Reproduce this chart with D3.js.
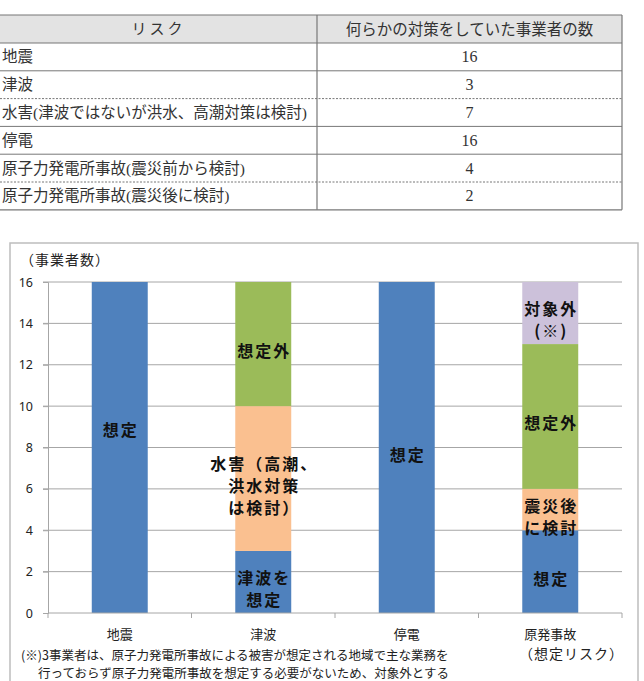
<!DOCTYPE html>
<html>
<head>
<meta charset="utf-8">
<script src="https://cdn.jsdelivr.net/npm/d3@7"></script>
<style>
  body { margin: 0; background: #fff; }
  svg { display: block; }
</style>
</head>
<body>
<svg id="page" width="644" height="681"></svg>
<script>
// table data
const tableHeader = ["リスク", "何らかの対策をしていた事業者の数"];
const riskNames = [
    "地震",
    "津波",
    "水害(津波ではないが洪水、高潮対策は検討)",
    "停電",
    "原子力発電所事故(震災前から検討)",
    "原子力発電所事故(震災後に検討)"
];
const riskCounts = [16, 3, 7, 16, 4, 2];
const dashedAfter = [1, 4]; // dotted separators under these rows

// chart data
const categories = ["地震", "津波", "停電", "原発事故"];
const souteiValues = [16, 3, 16, 4];
const kentouValues = [0, 7, 0, 2];
const souteigaiValues = [0, 6, 0, 7];
const taishougaiValues = [0, 0, 0, 3];
const souteiLabels = ["想定", "津波を\n想定", "想定", "想定"];
const kentouLabels = ["", "水害（高潮、\n洪水対策\nは検討）", "", "震災後\nに検討"];
const souteigaiLabels = ["", "想定外", "", "想定外"];
const taishougaiLabels = ["", "", "", "対象外\n(※)"];
const yTicks = [0, 2, 4, 6, 8, 10, 12, 14, 16];

const seriesKeys = ["soutei", "kentou", "souteigai", "taishougai"];
const seriesValues = [souteiValues, kentouValues, souteigaiValues, taishougaiValues];
const seriesLabels = [souteiLabels, kentouLabels, souteigaiLabels, taishougaiLabels];
const colors = ["#4f81bd", "#fac090", "#9bbb59", "#ccc1da"];

const svg = d3.select("#page");
const serif = "'Liberation Serif', 'Noto Sans CJK JP', serif";
const sans = "'Noto Sans CJK JP', sans-serif";

// ---------- table ----------
const tbl = { left: 0, right: 622, split: 317, top: 15, headH: 28, rowH: 27.8 };
const tableG = svg.append("g");

tableG.append("rect")
    .attr("x", tbl.left).attr("y", tbl.top)
    .attr("width", tbl.right - tbl.left).attr("height", tbl.headH)
    .attr("fill", "#e3e3e3");

const rowY = i => tbl.top + tbl.headH + i * tbl.rowH;
const tableBottom = rowY(riskNames.length);

// header text
tableG.append("text")
    .attr("x", (tbl.left + tbl.split) / 2).attr("y", tbl.top + tbl.headH / 2)
    .attr("text-anchor", "middle").attr("dominant-baseline", "central")
    .style("font-family", serif).style("font-size", "15px").style("letter-spacing", "3px")
    .attr("fill", "#333")
    .text(tableHeader[0]);
tableG.append("text")
    .attr("x", (tbl.split + tbl.right) / 2).attr("y", tbl.top + tbl.headH / 2)
    .attr("text-anchor", "middle").attr("dominant-baseline", "central")
    .style("font-family", serif).style("font-size", "15.5px").attr("fill", "#333")
    .text(tableHeader[1]);

const rows = tableG.selectAll("g.row")
    .data(riskNames)
    .enter()
    .append("g")
    .attr("class", "row");

rows.append("text")
    .attr("x", tbl.left + 2)
    .attr("y", (d, i) => rowY(i) + tbl.rowH / 2)
    .attr("dominant-baseline", "central")
    .style("font-family", serif).style("font-size", "15.5px").attr("fill", "#333")
    .text(d => d);

rows.append("text")
    .attr("x", (tbl.split + tbl.right) / 2)
    .attr("y", (d, i) => rowY(i) + tbl.rowH / 2)
    .attr("text-anchor", "middle").attr("dominant-baseline", "central")
    .style("font-family", serif).style("font-size", "16px").attr("fill", "#333")
    .text((d, i) => riskCounts[i]);

// row separators
riskNames.slice(0, -1).forEach((d, i) => {
    tableG.append("line")
        .attr("x1", tbl.left).attr("x2", tbl.right)
        .attr("y1", rowY(i + 1)).attr("y2", rowY(i + 1))
        .attr("stroke", "#777").attr("stroke-width", 1)
        .attr("stroke-dasharray", dashedAfter.includes(i) ? "2,1.5" : null);
});
// outer lines
[tbl.top, tbl.top + tbl.headH, tableBottom].forEach(y => {
    tableG.append("line")
        .attr("x1", tbl.left).attr("x2", tbl.right).attr("y1", y).attr("y2", y)
        .attr("stroke", "#777").attr("stroke-width", 1.2);
});
[tbl.split, tbl.right].forEach(x => {
    tableG.append("line")
        .attr("x1", x).attr("x2", x).attr("y1", tbl.top).attr("y2", tableBottom)
        .attr("stroke", "#777").attr("stroke-width", 1.2);
});

// ---------- chart ----------
svg.append("rect")
    .attr("x", 10).attr("y", 243)
    .attr("width", 628).attr("height", 460)
    .attr("fill", "none").attr("stroke", "#bdbdbd").attr("stroke-width", 1.5);

const plot = { left: 48, right: 622, top: 282, bottom: 613 };

const x = d3.scaleBand()
    .domain(categories)
    .range([plot.left, plot.right])
    .paddingInner(0.61)
    .paddingOuter(0.305);

const y = d3.scaleLinear()
    .domain([0, 16])
    .range([plot.bottom, plot.top]);

// gridlines
svg.append("g")
    .selectAll("line")
    .data(yTicks.filter(t => t > 0))
    .enter()
    .append("line")
    .attr("x1", plot.left - 5).attr("x2", plot.right)
    .attr("y1", d => y(d)).attr("y2", d => y(d))
    .attr("stroke", "#a6a6a6").attr("stroke-width", 1);

// y axis
const yAxis = svg.append("g")
    .attr("transform", `translate(${plot.left},0)`)
    .call(d3.axisLeft(y).tickValues(yTicks).tickSize(5).tickPadding(10));
yAxis.select(".domain").attr("stroke", "#a6a6a6");
yAxis.selectAll(".tick line").attr("stroke", "#a6a6a6");
yAxis.selectAll("text")
    .style("font-family", "'Noto Sans', sans-serif").style("font-size", "12.5px").attr("fill", "#222");

// stacked bars
const table = categories.map((c, i) => {
    const row = { category: c };
    seriesKeys.forEach((k, j) => { row[k] = seriesValues[j][i]; });
    return row;
});
const stacked = d3.stack().keys(seriesKeys)(table);

const layers = svg.selectAll("g.layer")
    .data(stacked)
    .enter()
    .append("g")
    .attr("class", "layer")
    .attr("fill", (d, i) => colors[i]);

layers.selectAll("rect")
    .data(d => d)
    .enter()
    .append("rect")
    .attr("x", d => x(d.data.category))
    .attr("y", d => y(d[1]))
    .attr("width", x.bandwidth())
    .attr("height", d => y(d[0]) - y(d[1]));

// x axis (baseline with ticks at band edges)
svg.append("line")
    .attr("x1", plot.left).attr("x2", plot.right)
    .attr("y1", plot.bottom).attr("y2", plot.bottom)
    .attr("stroke", "#a6a6a6");
const step = x.step();
d3.range(categories.length + 1).forEach(i => {
    const xx = plot.left + i * step;
    svg.append("line")
        .attr("x1", xx).attr("x2", xx)
        .attr("y1", plot.bottom).attr("y2", plot.bottom + 5)
        .attr("stroke", "#a6a6a6");
});
svg.append("g")
    .selectAll("text")
    .data(categories)
    .enter()
    .append("text")
    .attr("x", d => x(d) + x.bandwidth() / 2)
    .attr("y", 633)
    .attr("text-anchor", "middle")
    .attr("dominant-baseline", "central")
    .style("font-family", sans).style("font-size", "13px").attr("fill", "#222")
    .text(d => d);

// segment labels
const labelNudge = { "0-0": -25 };
stacked.forEach((layer, si) => {
    layer.forEach((seg, ci) => {
        const txt = seriesLabels[si][ci];
        if (!txt) return;
        const lines = txt.split("\n");
        const lineH = 22;
        const cy = (y(seg[0]) + y(seg[1])) / 2 + 6 + (labelNudge[`${si}-${ci}`] || 0);
        const t = svg.append("text")
            .attr("text-anchor", "middle")
            .style("font-family", sans).style("font-size", "16px")
            .style("font-weight", "bold").style("letter-spacing", "2px")
            .attr("fill", "#111");
        lines.forEach((ln, li) => {
            t.append("tspan")
                .attr("x", x(seg.data.category) + x.bandwidth() / 2 + 1)
                .attr("y", cy + (li - (lines.length - 1) / 2) * lineH)
                .attr("dominant-baseline", "central")
                .text(ln);
        });
    });
});

// titles and notes
svg.append("text")
    .attr("x", 20).attr("y", 259)
    .attr("dominant-baseline", "central")
    .style("font-family", sans).style("font-size", "14px").style("letter-spacing", "1px")
    .attr("fill", "#222")
    .text("（事業者数）");

svg.append("text")
    .attr("x", 624).attr("y", 653)
    .attr("text-anchor", "end").attr("dominant-baseline", "central")
    .style("font-family", sans).style("font-size", "14px").style("letter-spacing", "1px")
    .attr("fill", "#222")
    .text("（想定リスク）");

const notes = [
    "(※)3事業者は、原子力発電所事故による被害が想定される地域で主な業務を",
    "行っておらず原子力発電所事故を想定する必要がないため、対象外とする"
];
svg.append("g")
    .selectAll("text")
    .data(notes)
    .enter()
    .append("text")
    .attr("x", (d, i) => i === 0 ? 21 : 38)
    .attr("y", (d, i) => 654 + i * 18.2)
    .attr("dominant-baseline", "central")
    .style("font-family", sans).style("font-size", "12.5px")
    .attr("fill", "#222")
    .text(d => d);
</script>
</body>
</html>
